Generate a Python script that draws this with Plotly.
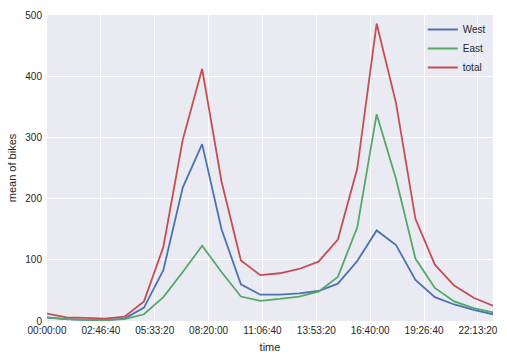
import plotly.graph_objects as go

time_seconds = [0, 3600, 7200, 10800, 14400, 18000, 21600, 25200, 28800, 32400, 36000, 39600,
                43200, 46800, 50400, 54000, 57600, 61200, 64800, 68400, 72000, 75600, 79200, 82800]
west = [5.5, 3, 2, 1.5, 4, 22, 83, 218, 289, 150, 60, 43, 43, 45, 49, 61, 98, 148, 124, 67, 39, 27, 18, 11]
east = [6, 3, 2, 1.5, 3, 11, 39, 80, 123, 80, 40, 33, 36, 40, 48, 72, 153, 338, 232, 102, 54, 32, 21, 14]
total = [12, 6, 5, 4, 7, 32, 121, 296, 412, 228, 99, 75, 78, 85, 97, 133, 249, 486, 356, 167, 92, 58, 38, 25]

tick_vals = [0, 10000, 20000, 30000, 40000, 50000, 60000, 70000, 80000]
tick_text = ["00:00:00", "02:46:40", "05:33:20", "08:20:00", "11:06:40",
             "13:53:20", "16:40:00", "19:26:40", "22:13:20"]

series = [("West", west, "#4C72B0"), ("East", east, "#55A868"), ("total", total, "#C44E52")]

fig = go.Figure()
for name, vals, color in series:
    fig.add_trace(go.Scatter(x=time_seconds, y=vals, mode="lines", name=name,
                             line=dict(color=color, width=1.8)))

font_family = "Liberation Sans, Arial, sans-serif"
fig.update_layout(
    width=507, height=358,
    margin=dict(l=47, r=14, t=15, b=37, autoexpand=False),
    paper_bgcolor="white",
    plot_bgcolor="#EAEAF2",
    font=dict(family=font_family, size=10, color="#262626"),
    showlegend=True,
    legend=dict(x=0.995, y=1.0, xanchor="right", yanchor="top",
                bgcolor="rgba(0,0,0,0)", font=dict(size=10, color="#262626"),
                itemwidth=30, tracegroupgap=0),
    xaxis=dict(range=[0, 82800], tickvals=tick_vals, ticktext=tick_text,
               showgrid=True, gridcolor="white", gridwidth=1.2, zeroline=False,
               showline=False, ticks="", ticklabelstandoff=2, automargin=False,
               title=dict(text="time", font=dict(size=11), standoff=8)),
    yaxis=dict(range=[0, 500], tickvals=[0, 100, 200, 300, 400, 500],
               showgrid=True, gridcolor="white", gridwidth=1.2, zeroline=False,
               showline=False, ticks="", ticklabelstandoff=4, automargin=False,
               title=dict(text="mean of bikes", font=dict(size=11), standoff=6)),
)

fig.write_html("out.html",
               config={"displayModeBar": False},
               post_script="document.body.style.margin='0';document.body.style.overflow='hidden';")
